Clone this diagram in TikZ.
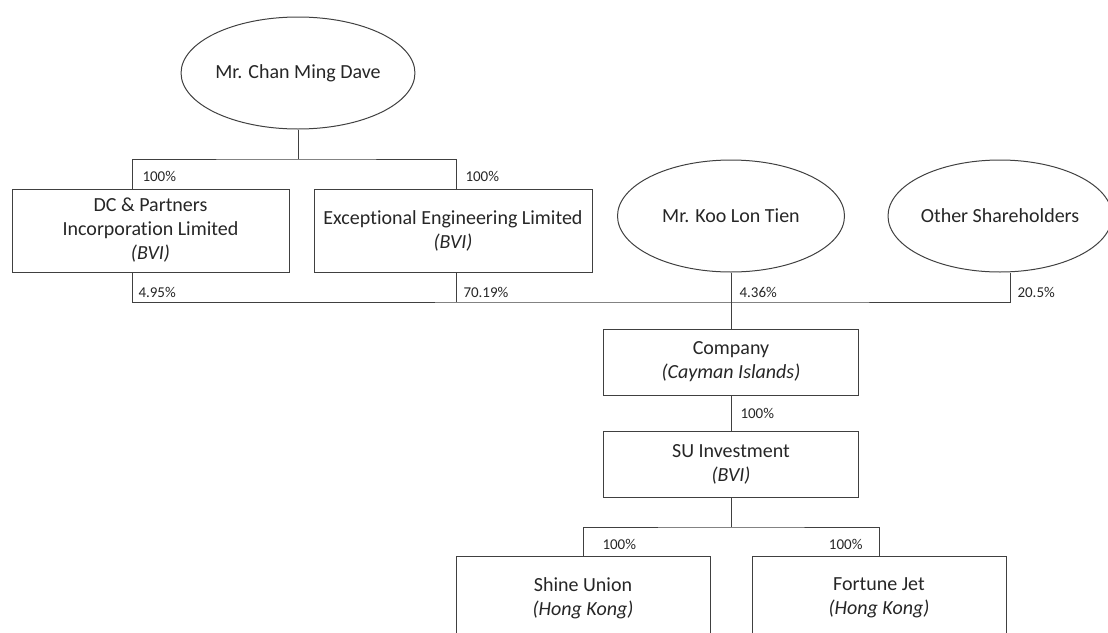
\documentclass[tikz,border=0pt]{standalone}
\usepackage{fontspec}
\setmainfont{Carlito}[Ligatures=NoCommon]
\usetikzlibrary{shapes.geometric}
\tikzset{
  holder/.style={draw=black!75, ellipse, minimum width=227pt, minimum height=112pt,
    inner sep=0pt, font=\fontsize{20}{24}\selectfont, text=black!85},
  entity/.style={draw=black!75, rectangle, align=center, inner sep=0pt,
    font=\fontsize{20}{24}\selectfont, text=black!85},
  pct/.style={inner sep=0pt, font=\fontsize{15}{18}\selectfont, text=black!85},
  link/.style={draw=black!75, line width=1pt},
}

\begin{document}
\begin{tikzpicture}[x=1pt, y=-1pt, line width=1pt]
\useasboundingbox (0,0) rectangle (1108,632);
\clip (0,0) rectangle (1108,632);

% shareholders
\node[holder] (chan) at (298,73) {Mr. Chan Ming Dave};
\node[holder] (koo) at (731,216) {Mr. Koo Lon Tien};
\node[holder, minimum width=215pt] (other) at (1000,216) {Other Shareholders};

\node[entity, minimum width=277pt, minimum height=83pt] (dc) at (150.5,230.5)
  {DC \& Partners\\Incorporation Limited\\\textit{(BVI)}};
\node[entity, minimum width=278pt, minimum height=83pt] (eel) at (453,230.5)
  {Exceptional Engineering Limited\\\textit{(BVI)}};

% group
\node[entity, minimum width=255pt, minimum height=66pt] (company) at (731,362)
  {Company\\\textit{(Cayman Islands)}};
\node[entity, minimum width=255pt, minimum height=66pt] (su) at (731,464)
  {SU Investment\\\textit{(BVI)}};
\node[entity, minimum width=254pt, minimum height=84pt] (shine) at (583,598)
  {Shine Union\\\textit{(Hong Kong)}};
\node[entity, minimum width=254pt, minimum height=84pt] (fortune) at (879,598)
  {Fortune Jet\\\textit{(Hong Kong)}};

% connectors
\coordinate (chanbus) at (298,159);
\coordinate (topbus) at (731,302);
\coordinate (subus) at (731,527);
\draw[link] (chan.south) -- (chanbus);
\draw[link] ([xshift=-18.5pt]dc.north) |- (chanbus) -| ([xshift=3pt]eel.north);
\draw[link] ([xshift=-18.5pt]dc.south) |- (topbus) -| ([xshift=10pt]other.south);
\draw[link] ([xshift=3pt]eel.south) -- ([xshift=3pt]eel.south |- topbus);
\draw[link] (koo.south) -- (company.north);
\draw[link] (company.south) -- (su.north);
\draw[link] (su.south) -- (subus);
\draw[link] (shine.north) |- (subus) -| (fortune.north);

% percentages
\node[pct, anchor=west] (pdctop) at (142,176) {100\%};
\node[pct, anchor=west] (peeltop) at (465,176) {100\%};
\node[pct, anchor=west] (pdc) at (138,292) {4.95\%};
\node[pct, anchor=west] (peel) at (463,292) {70.19\%};
\node[pct, anchor=west] (pkoo) at (739,292) {4.36\%};
\node[pct, anchor=west] (pother) at (1017,292) {20.5\%};
\node[pct, anchor=west] (pcompany) at (740,413) {100\%};
\node[pct, anchor=west] (pshine) at (602,544) {100\%};
\node[pct, anchor=east] (pfortune) at (863,544) {100\%};

\end{tikzpicture}
\end{document}
